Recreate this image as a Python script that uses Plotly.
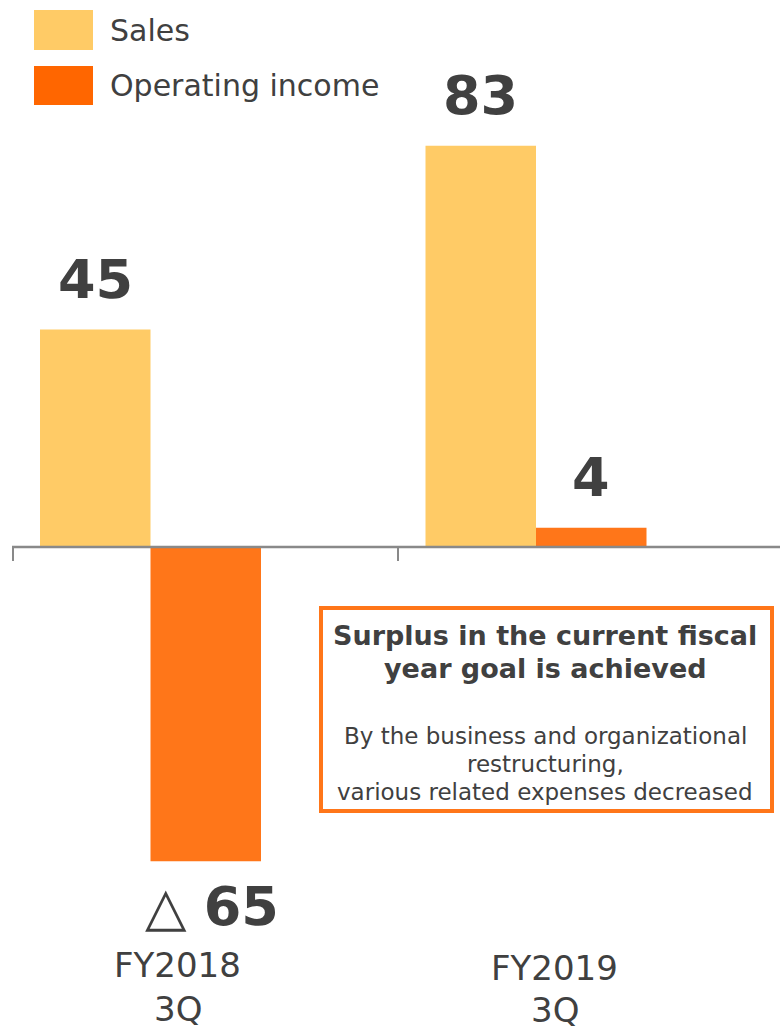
import plotly.graph_objects as go

# ---- data ----
categories = ["FY2018 3Q", "FY2019 3Q"]
tick_lines = [["FY2018", "3Q"], ["FY2019", "3Q"]]
sales = [45, 83]
operating_income = [-65, 4]
sales_labels = ["45", "83"]
op_labels = ["△ <b>65</b>", "<b>4</b>"]
box_title = ["Surplus in the current fiscal", "year goal is achieved"]
box_body = ["By the business and organizational", "restructuring,", "various related expenses decreased"]

W, H = 780, 1033
TEXT = "#404040"
SALES_C = "#FFCB66"
OP_C = "#FF7619"
OP_LEG = "#FF6600"
FONT = "DejaVu Sans"

# pixel geometry (layout only)
px_per_unit_x = 385.5
x0 = -150.5 / px_per_unit_x
x1 = x0 + W / px_per_unit_x
px_per_unit_y = 4.835
y_top = 547 / px_per_unit_y
y_bot = -(H - 547) / px_per_unit_y
bar_w_units = 110.5 / px_per_unit_x

fig = go.Figure()
fig.add_trace(go.Bar(x=categories, y=sales, name="Sales", marker_color=SALES_C,
                     marker_line_width=0, showlegend=False))
fig.add_trace(go.Bar(x=categories, y=operating_income, name="Operating income",
                     marker_color=OP_C, marker_line_width=0, showlegend=False))

annotations = []
def para(text, xp, yp, size, anchor="center", bold=False):
    annotations.append(dict(x=xp / W, y=1 - yp / H, xref="paper", yref="paper",
                            text=f"<b>{text}</b>" if bold else text,
                            showarrow=False, xanchor=anchor, yanchor="middle",
                            font=dict(family=FONT, size=size, color=TEXT)))

# value labels
for i, (v, t) in enumerate(zip(sales, sales_labels)):
    annotations.append(dict(x=i - bar_w_units / 2, y=v, xref="x", yref="y", text=f"<b>{t}</b>",
                            showarrow=False, yanchor="middle", yshift=50,
                            font=dict(family=FONT, size=54, color=TEXT)))
for i, (v, t) in enumerate(zip(operating_income, op_labels)):
    shift = 50 if v >= 0 else -45
    xs = 0 if v >= 0 else 6
    annotations.append(dict(x=i + bar_w_units / 2, y=v, xref="x", yref="y", text=t,
                            showarrow=False, yanchor="middle", yshift=shift, xshift=xs,
                            font=dict(family=FONT, size=54, color=TEXT)))

# category labels
cat_label_px = [177.5, 554.5]
cat_label_y = [(965, 1009), (968, 1010)]
for lines, xp, ys in zip(tick_lines, cat_label_px, cat_label_y):
    for ln, yp in zip(lines, ys):
        para(ln, xp, yp, 34)

# legend (manual)
legend_items = [("Sales", SALES_C, 10, 50), ("Operating income", OP_LEG, 66, 105)]
shapes = []
for name, col, ya, yb in legend_items:
    shapes.append(dict(type="rect", xref="paper", yref="paper", x0=34 / W, x1=93 / W,
                       y0=1 - yb / H, y1=1 - ya / H, fillcolor=col, line_width=0))
    para(name, 108, (ya + yb) / 2, 30, anchor="left")

# axis line and ticks
shapes.append(dict(type="line", xref="paper", yref="y", x0=12 / W, x1=1, y0=0, y1=0,
                   line=dict(color="#898989", width=2.5)))
for tx in [13, 398]:
    shapes.append(dict(type="line", xref="paper", yref="paper", x0=tx / W, x1=tx / W,
                       y0=1 - 547 / H, y1=1 - 561 / H, line=dict(color="#898989", width=2)))

# callout box
shapes.append(dict(type="rect", xref="paper", yref="paper", x0=321 / W, x1=772 / W,
                   y0=1 - 811 / H, y1=1 - 608 / H, fillcolor="white",
                   line=dict(color=OP_C, width=4)))
for ln, yp in zip(box_title, [635, 668]):
    para(ln, 545, yp, 27, bold=True)
for ln, yp in zip(box_body, [736, 764, 792]):
    para(ln, 545, yp, 23)

fig.update_layout(
    width=W, height=H,
    margin=dict(l=0, r=0, t=0, b=0),
    paper_bgcolor="white", plot_bgcolor="white",
    barmode="group", bargap=1 - 221 / px_per_unit_x, bargroupgap=0,
    xaxis=dict(range=[x0, x1], visible=False, type="category"),
    yaxis=dict(range=[y_bot, y_top], visible=False),
    shapes=shapes, annotations=annotations,
    font=dict(family=FONT, color=TEXT),
)

fig.write_html("out.html")
